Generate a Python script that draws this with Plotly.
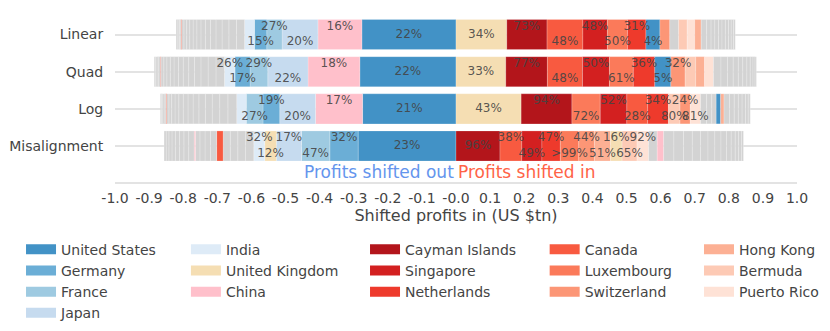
import numpy as np
import plotly.graph_objects as go

scenarios = ["Linear", "Quad", "Log", "Misalignment"]

# legend columns, in the order they are listed
legend_columns = [
    ["United States", "Germany", "France", "Japan"],
    ["India", "United Kingdom", "China"],
    ["Cayman Islands", "Singapore", "Netherlands"],
    ["Canada", "Luxembourg", "Switzerland"],
    ["Hong Kong", "Bermuda", "Puerto Rico"],
]

colors = {
    "United States": "#4292c6", "Germany": "#6baed6", "France": "#9ecae1",
    "Japan": "#c6dbef", "India": "#deebf7", "United Kingdom": "#f5deb3",
    "China": "#ffc0cb", "Cayman Islands": "#b3151b", "Singapore": "#d32020",
    "Netherlands": "#ee3a2c", "Canada": "#f85a40", "Luxembourg": "#fb7a5a",
    "Switzerland": "#fc9676", "Hong Kong": "#fcb094", "Bermuda": "#fdcab5",
    "Puerto Rico": "#fee2d6", "Other": "#d3d3d3",
}

# profits shifted out (US $tn, stacked from zero outwards) and shifted in
linear_out = ["United States", "China", "Japan", "France", "Germany", "India"] + ["Other"] * 13 + ["Canada"] + ["Other"] * 4
linear_out_val = [0.276, 0.129, 0.105, 0.045, 0.036, 0.029,
                  0.024, 0.022, 0.020, 0.018, 0.016, 0.015, 0.013, 0.012, 0.011, 0.010, 0.009, 0.008, 0.007,
                  0.002, 0.004, 0.004, 0.003, 0.003]
linear_out_pct = ["22%", "16%", "20%", "27%", "15%", ""]
linear_in = ["United Kingdom", "Cayman Islands", "Canada", "Singapore", "Luxembourg", "Netherlands",
             "United States", "Switzerland", "Other", "Bermuda", "Puerto Rico", "Hong Kong"] + ["Other"] * 10
linear_in_val = [0.149, 0.118, 0.105, 0.072, 0.059, 0.054, 0.041, 0.029, 0.026, 0.025, 0.022, 0.019,
                 0.016, 0.013, 0.011, 0.011, 0.010, 0.010, 0.009, 0.008, 0.007, 0.005]
linear_in_pct = ["34%", "73%", "48%", "48%", "50%", "31%", "4%"]

quad_out = ["United States", "China", "Japan", "France", "Germany", "India"] + ["Other"] * 12 + ["Canada"] + ["Other"] * 4
quad_out_val = [0.282, 0.152, 0.118, 0.052, 0.044, 0.031,
                0.025, 0.023, 0.021, 0.019, 0.017, 0.016, 0.014, 0.013, 0.011, 0.010, 0.009, 0.008,
                0.002, 0.005, 0.005, 0.004, 0.004]
quad_out_pct = ["22%", "18%", "22%", "29%", "17%", "26%"]
quad_in = ["United Kingdom", "Cayman Islands", "Canada", "Singapore", "Luxembourg", "Netherlands",
           "United States", "Switzerland", "Bermuda", "Hong Kong", "Puerto Rico"] + ["Other"] * 10
quad_in_val = [0.146, 0.122, 0.103, 0.079, 0.070, 0.063, 0.047, 0.042, 0.031, 0.026, 0.026,
               0.022, 0.019, 0.017, 0.015, 0.013, 0.012, 0.010, 0.008, 0.006, 0.004]
quad_in_pct = ["33%", "77%", "48%", "50%", "61%", "36%", "5%", "32%"]

log_out = ["United States", "China", "Japan", "Germany", "France", "India"] + ["Other"] * 13 + ["Canada"] + ["Other"] * 4
log_out_val = [0.274, 0.138, 0.105, 0.049, 0.049, 0.028,
               0.026, 0.024, 0.022, 0.020, 0.019, 0.017, 0.015, 0.014, 0.013, 0.011, 0.010, 0.008, 0.007,
               0.002, 0.005, 0.004, 0.004, 0.003]
log_out_pct = ["21%", "17%", "20%", "19%", "27%", ""]
log_in = ["United Kingdom", "Cayman Islands", "Luxembourg", "Singapore", "Canada", "Netherlands",
          "Bermuda", "Switzerland", "Puerto Rico", "Other", "Other", "Other", "United States",
          "Hong Kong"] + ["Other"] * 7
log_in_val = [0.191, 0.149, 0.083, 0.078, 0.061, 0.061, 0.034, 0.030, 0.030, 0.018, 0.015, 0.013, 0.013, 0.010,
              0.016, 0.014, 0.012, 0.011, 0.010, 0.008, 0.006]
log_in_pct = ["43%", "94%", "72%", "52%", "28%", "34%", "80%", "24%", "81%"]

mis_out = ["United States", "Germany", "France", "Japan", "United Kingdom", "India",
           "Other", "Other", "Other", "Other", "Canada", "Other", "Other", "Other", "Other",
           "China"] + ["Other"] * 8
mis_out_val = [0.287, 0.083, 0.083, 0.074, 0.034, 0.032, 0.024, 0.023, 0.022, 0.021, 0.019,
               0.018, 0.016, 0.015, 0.013, 0.004,
               0.016, 0.014, 0.013, 0.012, 0.010, 0.009, 0.008, 0.006]
mis_out_pct = ["23%", "32%", "47%", "17%", "12%", "32%"]
mis_in = ["Cayman Islands", "Canada", "Singapore", "Netherlands", "Luxembourg", "Switzerland",
          "Hong Kong", "United Kingdom", "Bermuda", "Puerto Rico", "Other", "China"] + ["Other"] * 13
mis_in_val = [0.129, 0.064, 0.059, 0.054, 0.054, 0.046, 0.047, 0.034, 0.044, 0.034, 0.025, 0.019,
              0.030, 0.028, 0.026, 0.024, 0.022, 0.020, 0.018, 0.016, 0.014, 0.012, 0.010, 0.008, 0.006]
mis_in_pct = ["96%", "38%", "49%", "47%", ">99%", "44%", "51%", "16%", "65%", "92%"]

bars = {
    "Linear": [(linear_out, linear_out_val, linear_out_pct, -1), (linear_in, linear_in_val, linear_in_pct, 1)],
    "Quad": [(quad_out, quad_out_val, quad_out_pct, -1), (quad_in, quad_in_val, quad_in_pct, 1)],
    "Log": [(log_out, log_out_val, log_out_pct, -1), (log_in, log_in_val, log_in_pct, 1)],
    "Misalignment": [(mis_out, mis_out_val, mis_out_pct, -1), (mis_in, mis_in_val, mis_in_pct, 1)],
}

FONT = "DejaVu Sans"
fig = go.Figure()

for sc in scenarios:
    names, xs, cols = [], [], []
    tx, tt = [], []
    for countries, vals, pct, sign in bars[sc]:
        vals = np.array(vals)
        names += countries
        xs += list(sign * vals)
        cols += [colors[c] for c in countries]
        centers = sign * (np.cumsum(vals) - vals / 2)
        for i, lab in enumerate(pct):
            if not lab:
                continue
            # alternate labels above / below the middle so they don't collide
            if i == 0:
                t = lab
            elif i % 2:
                t = lab + "<br> "
            else:
                t = " <br>" + lab
            tx.append(centers[i])
            tt.append(t)
    fig.add_trace(go.Bar(y=[sc] * len(xs), x=xs, orientation="h",
                         marker=dict(color=cols, line=dict(color="rgba(255,255,255,0.35)", width=0.6)),
                         customdata=names, hovertemplate="%{customdata}: %{x:.3f}<extra></extra>",
                         showlegend=False))
    fig.add_trace(go.Scatter(y=[sc] * len(tx), x=tx, mode="text", text=tt,
                             textposition="middle center",
                             textfont=dict(family=FONT, size=12, color="rgba(68,68,68,0.9)"),
                             hoverinfo="skip", showlegend=False))

# legend entries, one legend box per column
legend_x = [-0.1378, 0.104, 0.3666, 0.630, 0.8563]
for k, col in enumerate(legend_columns):
    lg = "legend" if k == 0 else f"legend{k + 1}"
    for c in col:
        fig.add_trace(go.Scatter(x=[None], y=[None], mode="lines", name=c,
                                 line=dict(color=colors[c], width=10), legend=lg))

layout_legends = {}
for k, lx in enumerate(legend_x):
    lg = "legend" if k == 0 else f"legend{k + 1}"
    layout_legends[lg] = dict(x=lx, xanchor="left", y=-0.311, yanchor="top",
                              orientation="v", font=dict(family=FONT, size=14, color="#444"),
                              bgcolor="rgba(0,0,0,0)", tracegroupgap=0)

tick_vals = [-1.0, -0.9, -0.8, -0.7, -0.6, -0.5, -0.4, -0.3, -0.2, -0.1, 0.0,
             0.1, 0.2, 0.3, 0.4, 0.5, 0.6, 0.7, 0.8, 0.9, 1.0]
tick_text = ["-1.0", "-0.9", "-0.8", "-0.7", "-0.6", "-0.5", "-0.4", "-0.3", "-0.2", "-0.1", "-0.0",
             "0.1", "0.2", "0.3", "0.4", "0.5", "0.6", "0.7", "0.8", "0.9", "1.0"]

# the page puts the figure 8px in from the top-left corner
fig.update_layout(
    barmode="relative", bargap=0.19,
    width=814, height=315,
    margin=dict(l=107, r=25, t=7.5, b=141, autoexpand=False),
    paper_bgcolor="white", plot_bgcolor="white",
    font=dict(family=FONT, size=14, color="#444"),
    **layout_legends,
    annotations=[
        dict(x=0, y=0.06, xref="x", yref="paper", xanchor="right", yanchor="middle",
             text="Profits shifted out", showarrow=False,
             font=dict(family=FONT, size=17, color="#6495ED")),
        dict(x=0, y=0.06, xref="x", yref="paper", xanchor="left", yanchor="middle",
             text="Profits shifted in", showarrow=False,
             font=dict(family=FONT, size=17, color="#FF6347")),
    ],
)
fig.update_xaxes(range=[-1, 1], tickvals=tick_vals, ticktext=tick_text,
                 showgrid=False, zeroline=False, showline=True, linecolor="#e3e3e3", linewidth=2,
                 ticks="outside", ticklen=2, tickcolor="rgba(0,0,0,0)",
                 tickfont=dict(size=14), automargin=False,
                 title=dict(text="Shifted profits in (US $tn)", font=dict(size=16), standoff=0))
fig.update_yaxes(categoryorder="array", categoryarray=scenarios, range=[3.97, -0.5],
                 showgrid=True, gridcolor="#e3e3e3", gridwidth=2, automargin=False,
                 ticks="outside", ticklen=8, tickcolor="rgba(0,0,0,0)", tickfont=dict(size=14))

fig.write_html("out.html")
